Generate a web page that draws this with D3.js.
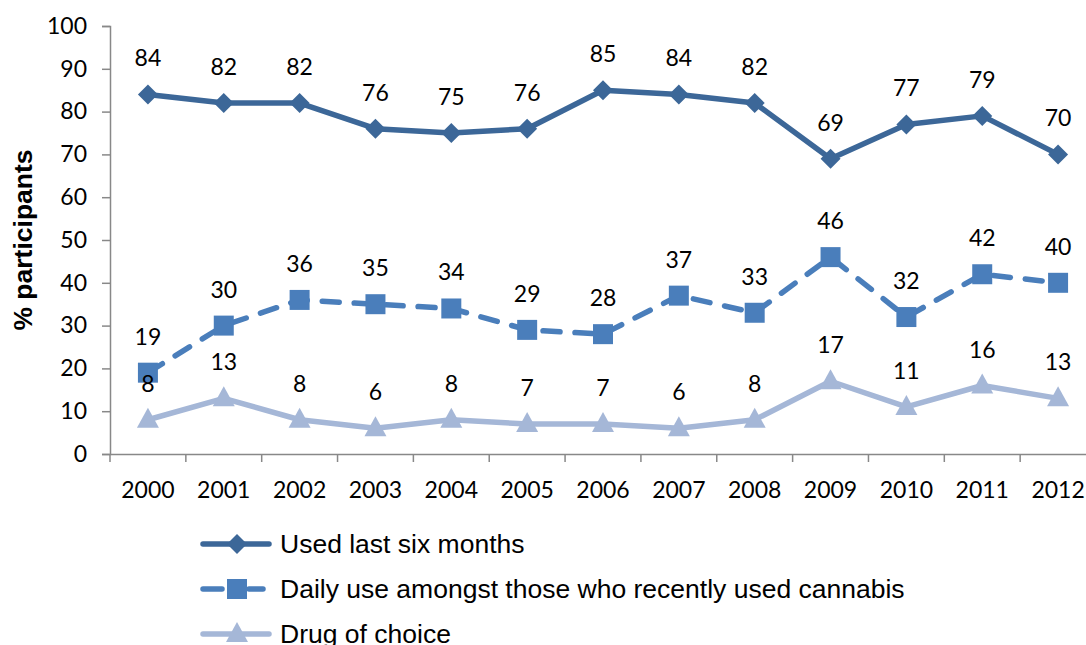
<!DOCTYPE html>
<html><head><meta charset="utf-8">
<script src="https://cdn.jsdelivr.net/npm/d3@7"></script>
<style>body{margin:0;background:#fff}svg{display:block}</style>
</head><body>
<svg id="c" width="1086" height="645"></svg>
<script>
const years = ["2000","2001","2002","2003","2004","2005","2006","2007","2008","2009","2010","2011","2012"];
const usedSixMonths = [84,82,82,76,75,76,85,84,82,69,77,79,70];
const dailyUse = [19,30,36,35,34,29,28,37,33,46,32,42,40];
const drugOfChoice = [8,13,8,6,8,7,7,6,8,17,11,16,13];
const yTicks = [0,10,20,30,40,50,60,70,80,90,100];
const seriesNames = ["Used last six months","Daily use amongst those who recently used cannabis","Drug of choice"];

const svg = d3.select("#c");
const pLeft = 110, pRight = 1096, pTop = 26, pBottom = 454;
const x = d3.scaleBand().domain(years).range([pLeft, pRight]);
const y = d3.scaleLinear().domain([0,100]).range([pBottom, pTop]);
const numFont = "Lato, 'Open Sans', sans-serif";
const numSize = 23;

// axes
const ya = svg.append("g").attr("transform",`translate(${pLeft},0)`)
  .call(d3.axisLeft(y).tickValues(yTicks).tickSize(8).tickPadding(15));
ya.select(".domain").attr("stroke","#888").attr("stroke-width",1.5);
ya.selectAll(".tick line").attr("stroke","#888").attr("stroke-width",1.5);
ya.selectAll("text").attr("font-family",numFont).attr("font-size",numSize).attr("fill","#000");

const xa = svg.append("g").attr("transform",`translate(0,${pBottom})`)
  .call(d3.axisBottom(x).tickSize(0).tickPadding(28));
xa.select(".domain").attr("stroke","#888").attr("stroke-width",1.5);
xa.selectAll("text").attr("font-family",numFont).attr("font-size",numSize).attr("fill","#000");
// category boundary ticks
xa.selectAll(".bt").data(years.concat(["end"])).enter().append("line")
  .attr("x1",(d,i)=>pLeft+i*x.step()).attr("x2",(d,i)=>pLeft+i*x.step())
  .attr("y1",0).attr("y2",8).attr("stroke","#888").attr("stroke-width",1.5);

svg.append("text").attr("transform",`translate(32,240) rotate(-90)`)
  .attr("text-anchor","middle").attr("font-family","'Liberation Sans', Arial, sans-serif")
  .attr("font-weight","bold").attr("font-size",26.5).text("% participants");

const cx = d => x(d) + x.bandwidth()/2;
const series = [
  {vals: usedSixMonths, color:"#3C6798", dash:null, marker:"diamond"},
  {vals: dailyUse, color:"#4A7EBB", dash:"17,15", marker:"square"},
  {vals: drugOfChoice, color:"#A5B7D7", dash:null, marker:"triangle"}
];
function markerPath(type){
  if(type==="diamond") return "M0,-10L10,0L0,10L-10,0Z";
  if(type==="square") return "M-10,-10H10V10H-10Z";
  return "M0,-12L11,8H-11Z";
}
const line = d3.line().x((d,i)=>cx(years[i])).y(d=>y(d));
series.forEach(s=>{
  svg.append("path").attr("d",line(s.vals)).attr("fill","none")
    .attr("stroke",s.color).attr("stroke-width",5.5).attr("stroke-linejoin","round")
    .attr("stroke-linecap","round").attr("stroke-dasharray",s.dash);
});
series.forEach(s=>{
  svg.selectAll(null).data(s.vals).enter().append("path")
    .attr("d",markerPath(s.marker)).attr("fill",s.color)
    .attr("transform",(d,i)=>`translate(${cx(years[i])},${y(d)})`);
});
series.forEach(s=>{
  svg.selectAll(null).data(s.vals).enter().append("text")
    .attr("x",(d,i)=>cx(years[i])).attr("y",d=>y(d)-28)
    .attr("text-anchor","middle").attr("font-family",numFont).attr("font-size",numSize)
    .attr("fill","#000").text(d=>d);
});

// legend
const legY = [544,589,634];
series.forEach((s,i)=>{
  const g = svg.append("g").attr("transform",`translate(0,${legY[i]})`);
  g.append("line").attr("x1",203).attr("x2",269).attr("y1",0).attr("y2",0)
    .attr("stroke",s.color).attr("stroke-width",5.5).attr("stroke-linecap","round")
    .attr("stroke-dasharray",s.dash ? "19,27,14" : null);
  g.append("path").attr("d",markerPath(s.marker)).attr("fill",s.color).attr("transform","translate(237,0)");
  g.append("text").attr("x",280).attr("y",9).attr("font-family","'Liberation Sans', Arial, sans-serif")
    .attr("font-size",26.5).attr("fill","#000").text(seriesNames[i]);
});
</script>
</body></html>
